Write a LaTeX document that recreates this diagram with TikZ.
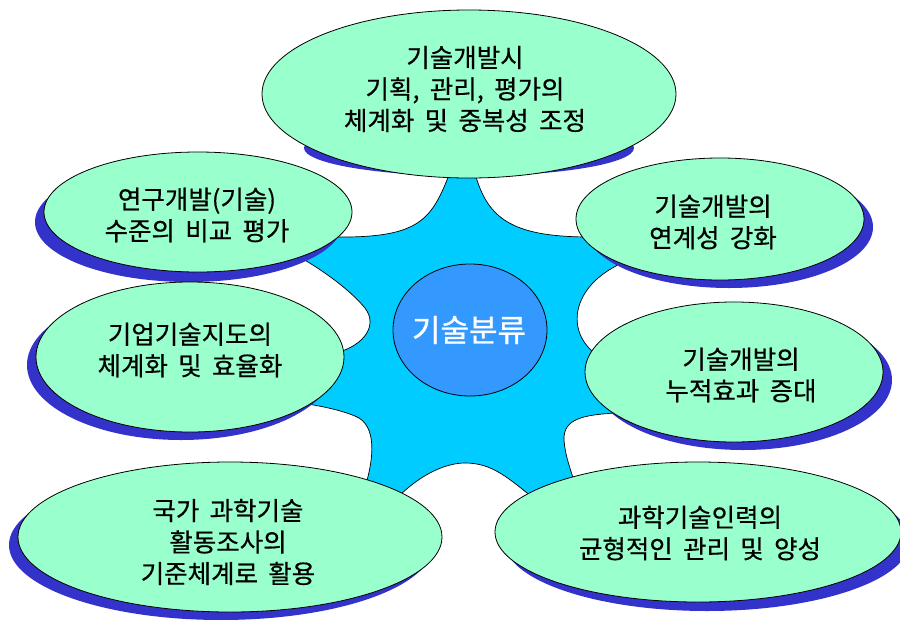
\documentclass[tikz,border=0pt]{standalone}
\usepackage{fontspec}
\newfontfamily\kr{Noto Sans CJK KR}[WordSpace=1.8, FakeBold=0.5]
\newfontfamily\krhub{Noto Sans CJK KR}[FakeBold=1]
\usetikzlibrary{shapes.geometric}
\definecolor{mint}{HTML}{99FFCC}
\definecolor{shade}{HTML}{3333CC}
\definecolor{starc}{HTML}{00CCFF}
\definecolor{hubc}{HTML}{3399FF}
\begin{document}
\begin{tikzpicture}[x=1pt,y=-1pt,
  bubble/.style={ellipse, draw=black, line width=0.8pt, fill=mint, inner sep=0pt},
  bubbletext/.style={inner sep=0pt, align=center, font=\kr\fontsize{25.5}{31.5}\selectfont},
  shadowfill/.style={fill=shade},
  starshape/.style={fill=starc, draw=black, line width=0.7pt}]
\useasboundingbox (0,0) rectangle (900,619);

% star
\path[starshape]
  (477,180) .. controls (490,220) and (515,237) .. (590,237)
  -- (650,245) -- (625,258) -- (616,266)
  .. controls (570,290) and (565,335) .. (600,357)
  -- (650,385) -- (620,413) -- (615,413)
  .. controls (585,415) and (563,418) .. (564,440)
  .. controls (565,455) and (570,468) .. (575,484)
  -- (600,520) -- (532,497)
  .. controls (505,475) and (490,463) .. (465,463)
  .. controls (445,463) and (420,475) .. (398,497)
  -- (370,520) -- (366,484)
  .. controls (373,460) and (378,425) .. (355,416)
  .. controls (340,410) and (325,407) .. (308,404)
  -- (270,380) -- (336,353)
  .. controls (365,345) and (378,325) .. (365,308)
  .. controls (350,290) and (325,272) .. (303,259)
  -- (250,230) -- (335,237)
  .. controls (415,238) and (430,222) .. (447,180)
  -- (462,140) -- cycle;

% shadows
\fill[shadowfill] (469,148) ellipse [x radius=165, y radius=28];
\fill[shadowfill] (189,222) ellipse [x radius=154, y radius=60];
\fill[shadowfill] (181,365) ellipse [x radius=154, y radius=75];
\fill[shadowfill] (221,545) ellipse [x radius=212, y radius=75];
\fill[shadowfill] (729,227) ellipse [x radius=144, y radius=61];
\fill[shadowfill] (743,380) ellipse [x radius=149, y radius=70];
\fill[shadowfill] (707,541) ellipse [x radius=203, y radius=70];

% bubbles
\node[bubble, minimum width=414pt, minimum height=168pt] (plan) at (469,94) {};
\node[bubble, minimum width=308pt, minimum height=120pt] (level) at (198,212) {};
\node[bubble, minimum width=308pt, minimum height=150pt] (map) at (190,357) {};
\node[bubble, minimum width=424pt, minimum height=150pt] (survey) at (230,537) {};
\node[bubble, minimum width=288pt, minimum height=122pt] (link) at (720,219) {};
\node[bubble, minimum width=298pt, minimum height=140pt] (accum) at (734,372) {};
\node[bubble, minimum width=406pt, minimum height=140pt] (hr) at (698,532) {};

% texts
\node[bubbletext] (plantxt) at (465,89) {기술개발시\\기획, 관리, 평가의\\체계화 및 중복성 조정};
\node[bubbletext] (leveltxt) at (197,215) {연구개발(기술)\\수준의 비교 평가};
\node[bubbletext] (maptxt) at (190,350) {기업기술지도의\\체계화 및 효율화};
\node[bubbletext] (surveytxt) at (228,542) {국가 과학기술\\활동조사의\\기준체계로 활용};
\node[bubbletext] (linktxt) at (713,222) {기술개발의\\연계성 강화};
\node[bubbletext] (accumtxt) at (741,375) {기술개발의\\누적효과 증대};
\node[bubbletext] (hrtxt) at (700,533) {과학기술인력의\\균형적인 관리 및 양성};

% hub
\node[ellipse, draw=black, line width=0.8pt, fill=hubc, inner sep=0pt,
  minimum width=154pt, minimum height=132pt] (hub) at (470,330) {};
\node[text=white, inner sep=0pt, font=\krhub\fontsize{31}{34}\selectfont] (hubtxt) at (469,330) {기술분류};
\end{tikzpicture}
\end{document}
